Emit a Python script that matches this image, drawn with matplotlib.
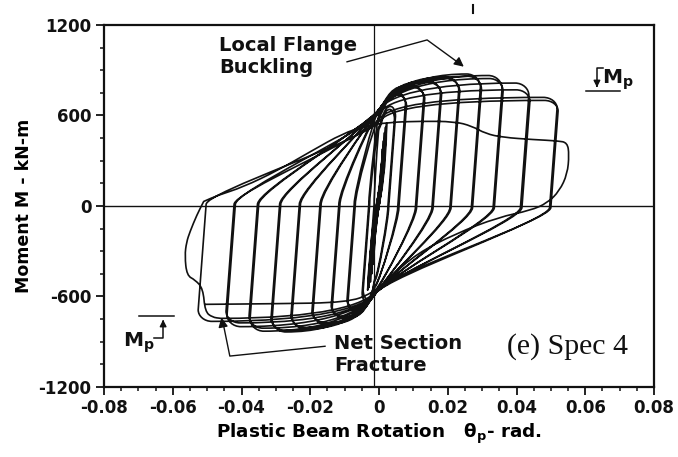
import matplotlib
matplotlib.use("Agg")
import matplotlib.pyplot as plt
from matplotlib.path import Path
from matplotlib.patches import PathPatch
from matplotlib.lines import Line2D

# ---------------- data ----------------
# reversal points of the cyclic test, in loading order (rad, kN-m)
rev_theta = [0.0008, -0.0014, 0.0010, -0.0017, 0.0013, -0.0021, 0.0016, -0.0025,
             0.0019, -0.0029, 0.0022, -0.0033,
             0.0045, -0.0046, 0.0048, -0.0049,
             0.0077, -0.0090, 0.0080, -0.0093,
             0.0130, -0.0136, 0.0133, -0.0139,
             0.0179, -0.0192, 0.0182, -0.0195,
             0.0232, -0.0253, 0.0235, -0.0256,
             0.0295, -0.0311, 0.0298, -0.0314,
             0.0358, -0.0375, 0.0361, -0.0378,
             0.0436, -0.0442, 0.0439, -0.0445,
             0.0518, -0.0526, 0.0521]
rev_moment = [320, -330, 420, -430, 480, -500, 540, -560, 580, -600, 610, -620,
              640, -620, 660, -640,
              750, -700, 735, -690,
              800, -745, 790, -735,
              830, -785, 820, -775,
              855, -815, 845, -805,
              875, -835, 860, -825,
              865, -830, 845, -810,
              815, -800, 770, -775,
              720, -765, 700]

# point where the net section fracture starts
fracture_start_theta = -0.0460
fracture_start_moment = -745
# path after the fracture (negative excursion, then the last cycle)
fracture_theta = [-0.0485, -0.0506, -0.0512, -0.0535, -0.0559, -0.0565, -0.0560,
                  -0.0550, -0.0530, -0.0510]
fracture_moment = [-738, -700, -547, -490, -461, -330, -240, -171, -60, 30]
post_theta = [-0.0470, -0.0396, -0.0295, -0.0194, -0.0106, -0.0040, 0.0030, 0.0120,
              0.0220, 0.0270, 0.0310, 0.0360, 0.0450, 0.0520, 0.0548, 0.0553,
              0.0548, 0.0525, 0.0490, 0.0440, 0.0348, 0.0222, 0.0109, 0.0033,
              -0.0020, -0.0093, -0.0300, -0.0505]
post_moment = [70, 125, 235, 368, 480, 530, 555, 562, 560, 530, 480, 455, 440, 432,
               420, 340, 213, 100, 20, -30, -74, -184, -317, -471, -580, -640,
               -648, -652]

x_ticks = [-0.08, -0.06, -0.04, -0.02, 0.0, 0.02, 0.04, 0.06, 0.08]
x_tick_labels = ['-0.08', '-0.06', '-0.04', '-0.02', '0', '0.02', '0.04', '0.06', '0.08']
y_ticks = [-1200, -600, 0, 600, 1200]
y_tick_labels = ['-1200', '-600', '0', '600', '1200']

# ---------------- drawing helpers ----------------
TILT = 0.0033 / 1000.0   # drift of plastic rotation per kN-m along an unloading line
K_C = 30000.0            # slope of the loops where they cross theta = 0


def branch(A, x0, m0, x1, m1, round_end=True):
    """Bezier pieces from current point A (just past reversal x0,m0) to next reversal."""
    verts, codes = [], []
    s = 1 if m1 > m0 else -1
    h1 = 0.1 * abs(m1) if round_end else 0.0
    E = (x1, m1 - s * h1)
    amp = max(abs(x0), abs(x1))
    if amp < 0.004:
        d = abs(E[1] - A[1])
        verts += [(A[0] + s * 0.0003, A[1] + s * 0.55 * d),
                  (x1 - s * 0.0006, E[1] - s * 0.45 * d), E]
        codes += [Path.CURVE4] * 3
        return verts, codes, E
    mb = s * 10
    xb = A[0] + s * TILT * abs(mb - A[1])
    if s > 0:
        xc, mc = 0.0, min(640.0, 0.8 * m1)
    else:
        xc, mc = -0.001, max(-580.0, 0.76 * m1)
    dx = abs(xc - xb)
    e = min(0.004, 0.2 * dx)
    verts += [(xb, mb)]
    codes += [Path.LINETO]
    verts += [(xb, mb + 0.15 * (mc - mb)), (xc - s * e, mc - s * e * K_C), (xc, mc)]
    codes += [Path.CURVE4] * 3
    r = min(0.004, 0.3 * abs(x1)) if round_end else 0.0
    T = (x1 - s * r, m1)
    d2 = min(0.003, 0.3 * abs(T[0] - xc))
    verts += [(xc + s * d2, mc + s * d2 * K_C), (xc + 0.35 * (T[0] - xc), m1), T]
    codes += [Path.CURVE4] * 3
    if round_end:
        verts += [(x1 - s * 0.45 * r, m1), (x1, m1 - s * 0.45 * h1), E]
        codes += [Path.CURVE4] * 3
    return verts, codes, E


def smooth_poly(xs, ys, verts, codes):
    pts = list(zip(xs, ys))
    verts.append(((pts[0][0] + pts[1][0]) / 2, (pts[0][1] + pts[1][1]) / 2))
    codes.append(Path.LINETO)
    for i in range(1, len(pts) - 1):
        mid = ((pts[i][0] + pts[i + 1][0]) / 2, (pts[i][1] + pts[i + 1][1]) / 2)
        verts += [pts[i], mid]
        codes += [Path.CURVE3, Path.CURVE3]
    verts.append(pts[-1])
    codes.append(Path.LINETO)


# ---------------- figure ----------------
fig = plt.figure(figsize=(6.78, 4.57), dpi=100)
ax = fig.add_axes([0.1534, 0.1532, 0.8112, 0.7921])
ax.set_xlim(-0.08, 0.08)
ax.set_ylim(-1200, 1200)

ink = '#111111'
verts = [(0.0, 0.0)]
codes = [Path.MOVETO]
# first loading
x1, m1 = rev_theta[0], rev_moment[0]
E = (x1, m1 - 0.1 * m1)
verts += [(0.0003, 0.5 * m1), (x1 - 0.0004, 0.8 * m1), E]
codes += [Path.CURVE4] * 3
A = E
for i in range(1, len(rev_theta)):
    v, c, A = branch(A, rev_theta[i - 1], rev_moment[i - 1], rev_theta[i], rev_moment[i])
    verts += v
    codes += c
# excursion that ends in the net section fracture
v, c, A = branch(A, rev_theta[-1], rev_moment[-1], fracture_start_theta,
                 fracture_start_moment, round_end=False)
verts += v
codes += c
smooth_poly([A[0]] + fracture_theta, [A[1]] + fracture_moment, verts, codes)
smooth_poly([fracture_theta[-1]] + post_theta, [fracture_moment[-1]] + post_moment,
            verts, codes)

ax.add_patch(PathPatch(Path(verts, codes), facecolor='none', edgecolor=ink, lw=1.2,
                       joinstyle='round', capstyle='round'))

# axes through origin
ax.axhline(0, color=ink, lw=1.0)
ax.axvline(-0.0015, color=ink, lw=0.9)

# ticks
ax.set_xticks(x_ticks)
ax.set_xticklabels(x_tick_labels)
ax.set_yticks(y_ticks)
ax.set_yticklabels(y_tick_labels)
ax.set_xticks([v / 1000 for v in range(-80, 81, 5)], minor=True)
ax.set_yticks(list(range(-1200, 1201, 150)), minor=True)
ax.tick_params(which='major', direction='out', length=6, width=1.3, labelsize=12,
               pad=3, colors=ink)
ax.tick_params(which='minor', direction='out', length=3, width=1.1, colors=ink)
for lab in ax.get_xticklabels() + ax.get_yticklabels():
    lab.set_fontweight('bold')
for sp in ax.spines.values():
    sp.set_linewidth(1.6)
    sp.set_color(ink)

ax.set_ylabel('Moment M - kN-m', fontsize=12.5, fontweight='bold', labelpad=4)
ax.set_xlabel(r'Plastic Beam Rotation   $\mathregular{\theta_p}$- rad.', fontsize=13.2,
              fontweight='bold', labelpad=3)

# annotations
ax.text(-0.0466, 1128, 'Local Flange\nBuckling', fontsize=14, fontweight='bold',
        ha='left', va='top', linespacing=1.2, color=ink)
ax.plot([-0.0093, 0.0140, 0.0240], [956, 1101, 935], color=ink, lw=1.0)
ax.annotate('', xy=(0.0253, 912), xytext=(0.0235, 945),
            arrowprops=dict(arrowstyle='-|>', color=ink, lw=1.0, mutation_scale=14))

ax.text(-0.0131, -850, 'Net Section\nFracture', fontsize=14, fontweight='bold',
        ha='left', va='top', linespacing=1.2, color=ink)
ax.plot([-0.0157, -0.0434, -0.0455], [-930, -995, -760], color=ink, lw=1.0)
ax.annotate('', xy=(-0.0460, -722), xytext=(-0.0456, -770),
            arrowprops=dict(arrowstyle='-|>', color=ink, lw=1.0, mutation_scale=14))

ax.text(0.0372, -935, '(e) Spec 4', fontsize=21.5, family='Liberation Serif',
        ha='left', va='center', color=ink)

# Mp markers
ax.plot([0.0602, 0.0701], [765, 765], color=ink, lw=1.1)
ax.plot([0.0652, 0.0634, 0.0634], [916, 916, 800], color=ink, lw=1.1)
ax.annotate('', xy=(0.0634, 768), xytext=(0.0634, 820),
            arrowprops=dict(arrowstyle='-|>', color=ink, lw=1.0, mutation_scale=10))
ax.text(0.0650, 840, r'$\mathbf{M_p}$', fontsize=14.5, ha='left', va='center', color=ink)

ax.plot([-0.0698, -0.0596], [-732, -732], color=ink, lw=1.1)
ax.plot([-0.0655, -0.0628, -0.0628], [-877, -877, -770], color=ink, lw=1.1)
ax.annotate('', xy=(-0.0628, -735), xytext=(-0.0628, -790),
            arrowprops=dict(arrowstyle='-|>', color=ink, lw=1.0, mutation_scale=10))
ax.text(-0.0745, -905, r'$\mathbf{M_p}$', fontsize=14.5, ha='left', va='center', color=ink)

# small stray mark above the frame
fig.add_artist(Line2D([473 / 678, 473 / 678], [1 - 5 / 457, 1 - 13 / 457], color=ink,
                      lw=1.5))

fig.savefig('out.png', dpi=100, facecolor='white')
